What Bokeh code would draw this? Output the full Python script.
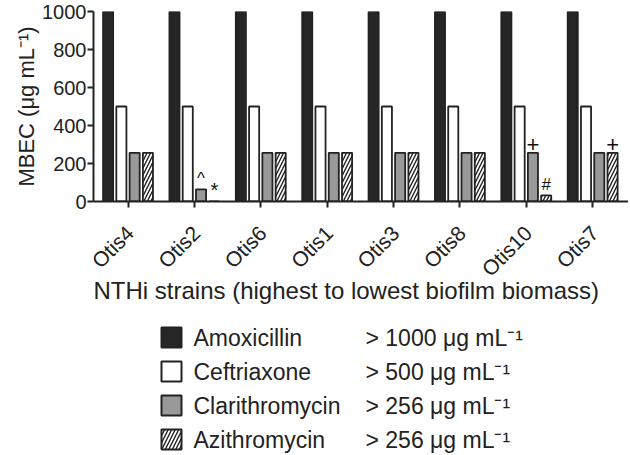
import math
from bokeh.plotting import figure
from bokeh.models import Range1d, FixedTicker, ColumnDataSource
from bokeh.layouts import column
from bokeh.embed import file_html
from bokeh.resources import INLINE
from bokeh.core.properties import value

# ---------------- data ----------------
strains = ["Otis4", "Otis2", "Otis6", "Otis1", "Otis3", "Otis8", "Otis10", "Otis7"]
amoxicillin = [1000, 1000, 1000, 1000, 1000, 1000, 1000, 1000]
ceftriaxone = [500, 500, 500, 500, 500, 500, 500, 500]
clarithromycin = [256, 64, 256, 256, 256, 256, 256, 256]
azithromycin = [256, 0, 256, 256, 256, 256, 32, 256]
drugs = ["Amoxicillin", "Ceftriaxone", "Clarithromycin", "Azithromycin"]
thresholds = [1000, 500, 256, 256]
y_ticks = [0, 200, 400, 600, 800, 1000]
note_strain = ["Otis2", "Otis2", "Otis10", "Otis10", "Otis7"]
note_drug = ["Clarithromycin", "Azithromycin", "Clarithromycin", "Azithromycin", "Azithromycin"]
note_symbol = ["^", "*", "+", "#", "+"]
x_title = "NTHi strains (highest to lowest biofilm biomass)"
y_title = "MBEC (\u03bcg mL\u207b\u00b9)"

# ---------------- styles ----------------
FONT = "Liberation Sans"
INK = "#222222"
fills = ["#262626", "#ffffff", "#999999", "#ffffff"]
hatches = ["", "", "", "right_diagonal_line"]
offsets = [-0.3, -0.1, 0.1, 0.3]
BAR_W = 0.152
series = [amoxicillin, ceftriaxone, clarithromycin, azithromycin]
# 183 rad is equivalent to ~45 degrees (183 mod 2*pi = 0.788 rad); an integer
# value is used because fractional angles were not rendered in this environment.
LABEL_ANGLE = 183

W = 628
LEFT = 93
H_MAIN, H_LAB, H_LEG = 213, 92, 150

def hatch_kw(hp):
    if hp:
        return dict(hatch_pattern=hp, hatch_color=INK, hatch_scale=7, hatch_weight=1.4)
    return {}

p = figure(width=W, height=H_MAIN, output_backend="svg", toolbar_location=None,
           x_range=Range1d(-0.52, 7.54), y_range=Range1d(0, 1000),
           min_border_left=LEFT, min_border_right=0, min_border_top=11, min_border_bottom=12)
p.outline_line_color = None
p.grid.visible = False

idx = list(range(len(strains)))
for vals, fc, hp, off in zip(series, fills, hatches, offsets):
    src = ColumnDataSource(dict(x=[i + off for i in idx], top=vals))
    p.vbar(x="x", top="top", bottom=0, width=BAR_W, source=src,
           fill_color=fc, line_color=INK, line_width=1.8, **hatch_kw(hp))

# annotation symbols above bars
nx, ny, nt, ns = [], [], [], []
sizes = {"^": "17px", "*": "20px", "+": "22px", "#": "17px"}
for s, d, sym in zip(note_strain, note_drug, note_symbol):
    i = strains.index(s)
    k = drugs.index(d)
    nx.append(i + offsets[k])
    ny.append(series[k][i])
    nt.append(sym)
    ns.append(sizes[sym])
p.text(x="x", y="y", text="t", text_font_size="fs",
       source=ColumnDataSource(dict(x=nx, y=ny, t=nt, fs=ns)),
       text_font=value(FONT), text_color="#111111", text_align="center",
       text_baseline="bottom", y_offset=-1)

for ax in (p.xaxis[0], p.yaxis[0]):
    ax.axis_line_color = INK
    ax.axis_line_width = 2
    ax.major_tick_line_color = INK
    ax.major_tick_line_width = 2
    ax.major_tick_out = 6
    ax.major_tick_in = 0
    ax.minor_tick_line_color = None
    ax.major_label_text_font = FONT
    ax.major_label_text_color = INK
    ax.axis_label_text_font = FONT
    ax.axis_label_text_color = INK
    ax.axis_label_text_font_style = "normal"

p.yaxis.ticker = FixedTicker(ticks=y_ticks)
p.yaxis.major_label_text_font_size = "20px"
p.yaxis.major_label_standoff = 1
p.yaxis.axis_label = y_title
p.yaxis.axis_label_text_font_size = "22px"
p.yaxis.axis_label_standoff = 0

p.xaxis.ticker = FixedTicker(ticks=idx)
p.xaxis.major_label_overrides = {i: "" for i in idx}
p.xaxis.major_label_text_font_size = "1px"
p.xaxis.major_label_standoff = 0

# ---------------- tick labels + x title ----------------
lab = figure(width=W, height=H_LAB, output_backend="svg", toolbar_location=None,
             x_range=p.x_range, y_range=Range1d(H_LAB, 0),
             min_border_left=LEFT, min_border_right=0, min_border_top=0, min_border_bottom=0,
             x_axis_location=None, y_axis_location=None)
lab.outline_line_color = None
lab.grid.visible = False
lab.text(x=idx, y=[16] * len(idx), text=strains, angle=LABEL_ANGLE,
         text_font=value(FONT), text_font_size="21px", text_color=INK,
         text_align="right", text_baseline="middle", x_offset=2)
lab.text(x=[p.x_range.start], y=[77], text=[x_title],
         text_font=value(FONT), text_font_size="24px", text_color=INK,
         text_align="left", text_baseline="middle")

# ---------------- legend panel ----------------
lg = figure(width=W, height=H_LEG, output_backend="svg", toolbar_location=None,
            x_range=Range1d(LEFT, W), y_range=Range1d(H_LEG, 0),
            min_border_left=LEFT, min_border_right=0, min_border_top=0, min_border_bottom=0,
            x_axis_location=None, y_axis_location=None)
lg.outline_line_color = None
lg.grid.visible = False

row0, step = 32, 34
ry = [row0 + j * step for j in range(len(drugs))]
for j, (fc, hp) in enumerate(zip(fills, hatches)):
    lg.rect(x=[171], y=[ry[j]], width=20, height=20, width_units="screen", height_units="screen",
            fill_color=fc, line_color=INK, line_width=2, **hatch_kw(hp))
lg.text(x=[193] * len(drugs), y=ry, text=drugs, text_font=value(FONT), text_font_size="23px",
        text_color=INK, text_baseline="middle", text_align="left")
lg.text(x=[365] * len(drugs), y=ry, text=["> %d \u03bcg mL\u207b\u00b9" % t for t in thresholds],
        text_font=value(FONT), text_font_size="23px", text_color=INK,
        text_baseline="middle", text_align="left")

layout = column(p, lab, lg, spacing=0)
open("out.html", "w").write(file_html(layout, INLINE))
